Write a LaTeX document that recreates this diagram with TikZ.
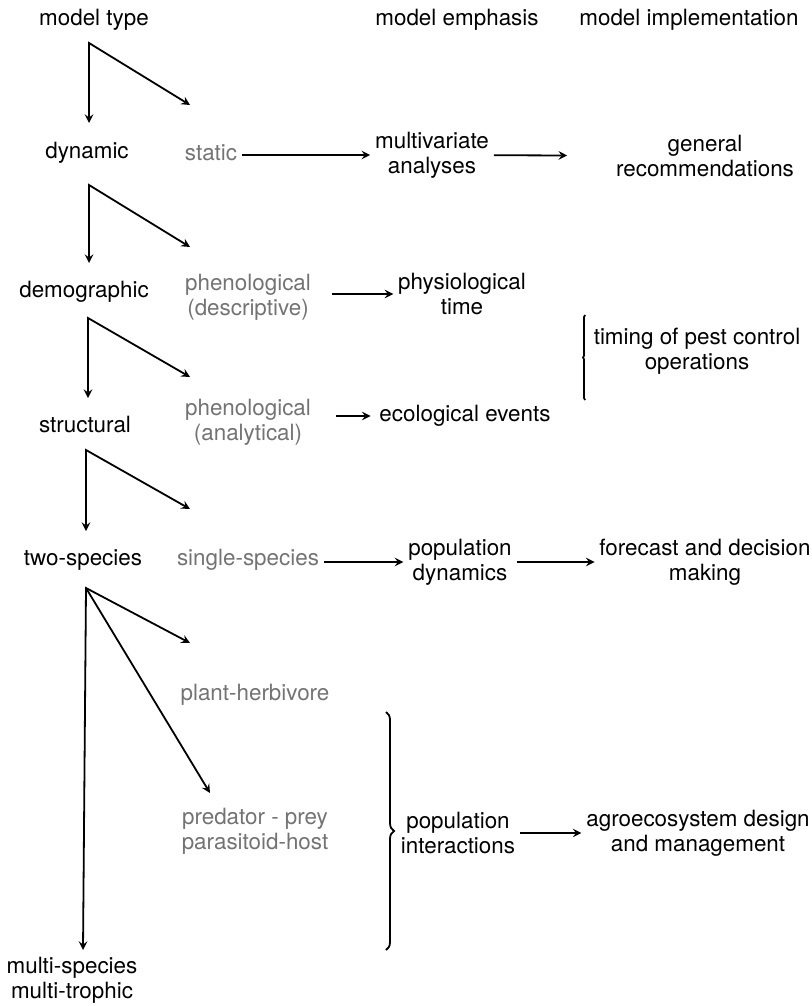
\documentclass[tikz,border=0pt]{standalone}
\usepackage{fontspec}
\setmainfont{TeX Gyre Heros}
\usetikzlibrary{decorations.pathreplacing}

\begin{document}
\begin{tikzpicture}[x=0.5pt, y=-0.5pt, >=stealth, line width=0.9pt]
  \tikzstyle{lbl}=[align=center, inner sep=2pt, font=\fontsize{11.2}{12.5}\selectfont]
  \tikzstyle{faded}=[lbl, text=black!55]
  \tikzstyle{brc}=[decorate, decoration={brace, amplitude=4pt}]
  \useasboundingbox (0,0) rectangle (811,1006);

  % column heads
  \node[lbl] (type) at (94,20) {model type};
  \node[lbl] (emph) at (457,20) {model emphasis};
  \node[lbl] (impl) at (689,20) {model implementation};

  % model types, left column
  \node[lbl] (dyn) at (87,153) {dynamic};
  \node[lbl] (demo) at (84,292) {demographic};
  \node[lbl] (struc) at (85,424) {structural};
  \node[lbl] (two) at (83,560) {two-species};
  \node[lbl] (multi) at (72,980) {multi-species\\multi-trophic};

  % model types, second column
  \node[faded] (stat) at (211,153) {static};
  \node[faded] (phd) at (248,297) {phenological\\(descriptive)};
  \node[faded] (pha) at (248,422) {phenological\\(analytical)};
  \node[faded] (single) at (248,560) {single-species};
  \node[faded] (plant) at (255,695) {plant-herbivore};
  \node[faded] (pred) at (255,831) {predator - prey\\parasitoid-host};

  % emphasis
  \node[lbl] (mva) at (432,155) {multivariate\\analyses};
  \node[lbl] (phys) at (462,294) {physiological\\time};
  \node[lbl] (eco) at (465,416) {ecological events};
  \node[lbl] (popd) at (460,562) {population\\dynamics};
  \node[lbl] (popi) at (458,833) {population\\interactions};

  % implementation
  \node[lbl] (gen) at (705,156) {general\\recommendations};
  \node[lbl] (timing) at (697,351) {timing of pest control\\operations};
  \node[lbl] (fore) at (705,562) {forecast and decision\\making};
  \node[lbl] (agro) at (698,833) {agroecosystem design\\and management};

  % forks
  \coordinate (f1) at (89,43);  \coordinate (f1d) at (89,123); \coordinate (f1s) at (190,105);
  \coordinate (f2) at (89,185); \coordinate (f2d) at (89,263); \coordinate (f2s) at (190,247);
  \coordinate (f3) at (88,318); \coordinate (f3d) at (88,398); \coordinate (f3s) at (190,377);
  \coordinate (f4) at (86,450); \coordinate (f4d) at (86,531); \coordinate (f4s) at (190,509);
  \coordinate (f5) at (86,588); \coordinate (f5d) at (83,950); \coordinate (f5s) at (190,643);
  \coordinate (f5p) at (210,793);

  \draw[<->] (f1d) -- (f1) -- (f1s);
  \draw[<->] (f2d) -- (f2) -- (f2s);
  \draw[<->] (f3d) -- (f3) -- (f3s);
  \draw[<->] (f4d) -- (f4) -- (f4s);
  \draw[<->] (f5d) -- (f5) -- (f5s);
  \draw[->] (f5) -- (f5p);

  % links to emphasis and implementation
  \draw[->] (stat.east |- mva.west) -- (mva.west);
  \draw[->, shorten >=22pt] (mva) -- (gen);
  \draw[->, shorten <=8pt] (phd.east |- phys.west) -- (phys.west);
  \draw[->, shorten <=10pt, shorten >=2pt] (pha.east |- eco.west) -- (eco.west);
  \draw[->] (single.east |- popd.west) -- (popd.west);
  \draw[->] (popd) -- (fore);
  \draw[->] (popi) -- (agro);

  % braces
  \coordinate (b1t) at (585,315); \coordinate (b1b) at (585,400);
  \draw[brc, decoration={amplitude=1pt}] (b1b) -- (b1t);
  \coordinate (b2t) at (386,712); \coordinate (b2b) at (386,950);
  \draw[brc] (b2t) -- (b2b);
\end{tikzpicture}
\end{document}
